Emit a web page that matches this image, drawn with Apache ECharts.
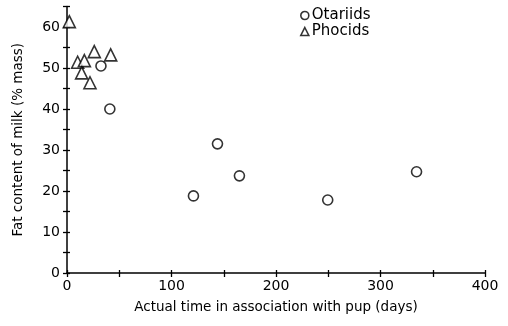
<!DOCTYPE html>
<html><head><meta charset="utf-8">
<script src="https://cdn.jsdelivr.net/npm/echarts@6/dist/echarts.min.js"></script>
<style>html,body{margin:0;padding:0;background:#fff}#c{width:508px;height:326px}</style>
</head><body><div id="c"></div>
<script>
const otariidsX = [32.5, 41, 121, 144, 165, 249.5, 334.5];
const otariidsY = [50.5, 40, 18.8, 31.5, 23.7, 17.8, 24.7];
const phocidsX = [2.2, 10.2, 16.6, 14, 22, 26.1, 41.8];
const phocidsY = [61.3, 51.4, 51.8, 48.8, 46.4, 54, 53.2];
const xTickLabels = [0, 100, 200, 300, 400];
const yTickLabels = [0, 10, 20, 30, 40, 50, 60];

const font = 'DejaVu Sans';
const chart = echarts.init(document.getElementById('c'));
const zip = (a, b) => a.map((v, i) => [v, b[i]]);
const mark = {color: '#fff', borderColor: '#000', borderWidth: 1.6};
const baseX = {type: 'value', min: 0, max: 400, interval: 50, splitLine: {show: false}};
const baseY = {type: 'value', min: 0, max: 65, interval: 5, splitLine: {show: false}};
chart.setOption({
  animation: false,
  backgroundColor: '#fff',
  grid: {left: 67, right: 23, top: 6.5, bottom: 53},
  legend: {
    orient: 'vertical', left: 300, top: 8, padding: 0, itemGap: 1, itemWidth: 8, itemHeight: 8,
    itemStyle: mark,
    textStyle: {fontFamily: font, fontSize: 15, color: '#000', padding: [0, 0, 0, -2]},
    data: [{name: 'Otariids', icon: 'circle'}, {name: 'Phocids', icon: 'triangle'}]
  },
  xAxis: [Object.assign({}, baseX, {
    name: 'Actual time in association with pup (days)', nameLocation: 'middle', nameGap: 27,
    nameTextStyle: {fontFamily: font, fontSize: 13.5, color: '#000'},
    axisLine: {lineStyle: {color: '#000', width: 1.5}},
    axisTick: {length: 4, lineStyle: {color: '#000', width: 1.3}},
    axisLabel: {fontFamily: font, fontSize: 14, color: '#000', margin: 6,
      formatter: v => xTickLabels.includes(v) ? String(v) : ''}
  }), Object.assign({}, baseX, {
    position: 'bottom', axisLine: {show: false},
    axisTick: {inside: true, length: 3, lineStyle: {color: '#000', width: 1.3}},
    axisLabel: {show: false}
  })],
  yAxis: [Object.assign({}, baseY, {
    name: 'Fat content of milk (% mass)', nameLocation: 'middle', nameGap: 42,
    nameTextStyle: {fontFamily: font, fontSize: 13.5, color: '#000'},
    axisLine: {lineStyle: {color: '#000', width: 1.5}},
    axisTick: {length: 4, lineStyle: {color: '#000', width: 1.3}},
    axisLabel: {fontFamily: font, fontSize: 14, color: '#000', margin: 7,
      formatter: v => yTickLabels.includes(v) ? String(v) : ''}
  }), Object.assign({}, baseY, {
    position: 'left', axisLine: {show: false},
    axisTick: {inside: true, length: 3, lineStyle: {color: '#000', width: 1.3}},
    axisLabel: {show: false}
  })],
  series: [
    {name: 'Otariids', type: 'scatter', symbol: 'circle', symbolSize: 10,
      itemStyle: mark, data: zip(otariidsX, otariidsY)},
    {name: 'Phocids', type: 'scatter', symbol: 'triangle', symbolSize: 12,
      itemStyle: mark, data: zip(phocidsX, phocidsY)}
  ]
});
</script></body></html>
